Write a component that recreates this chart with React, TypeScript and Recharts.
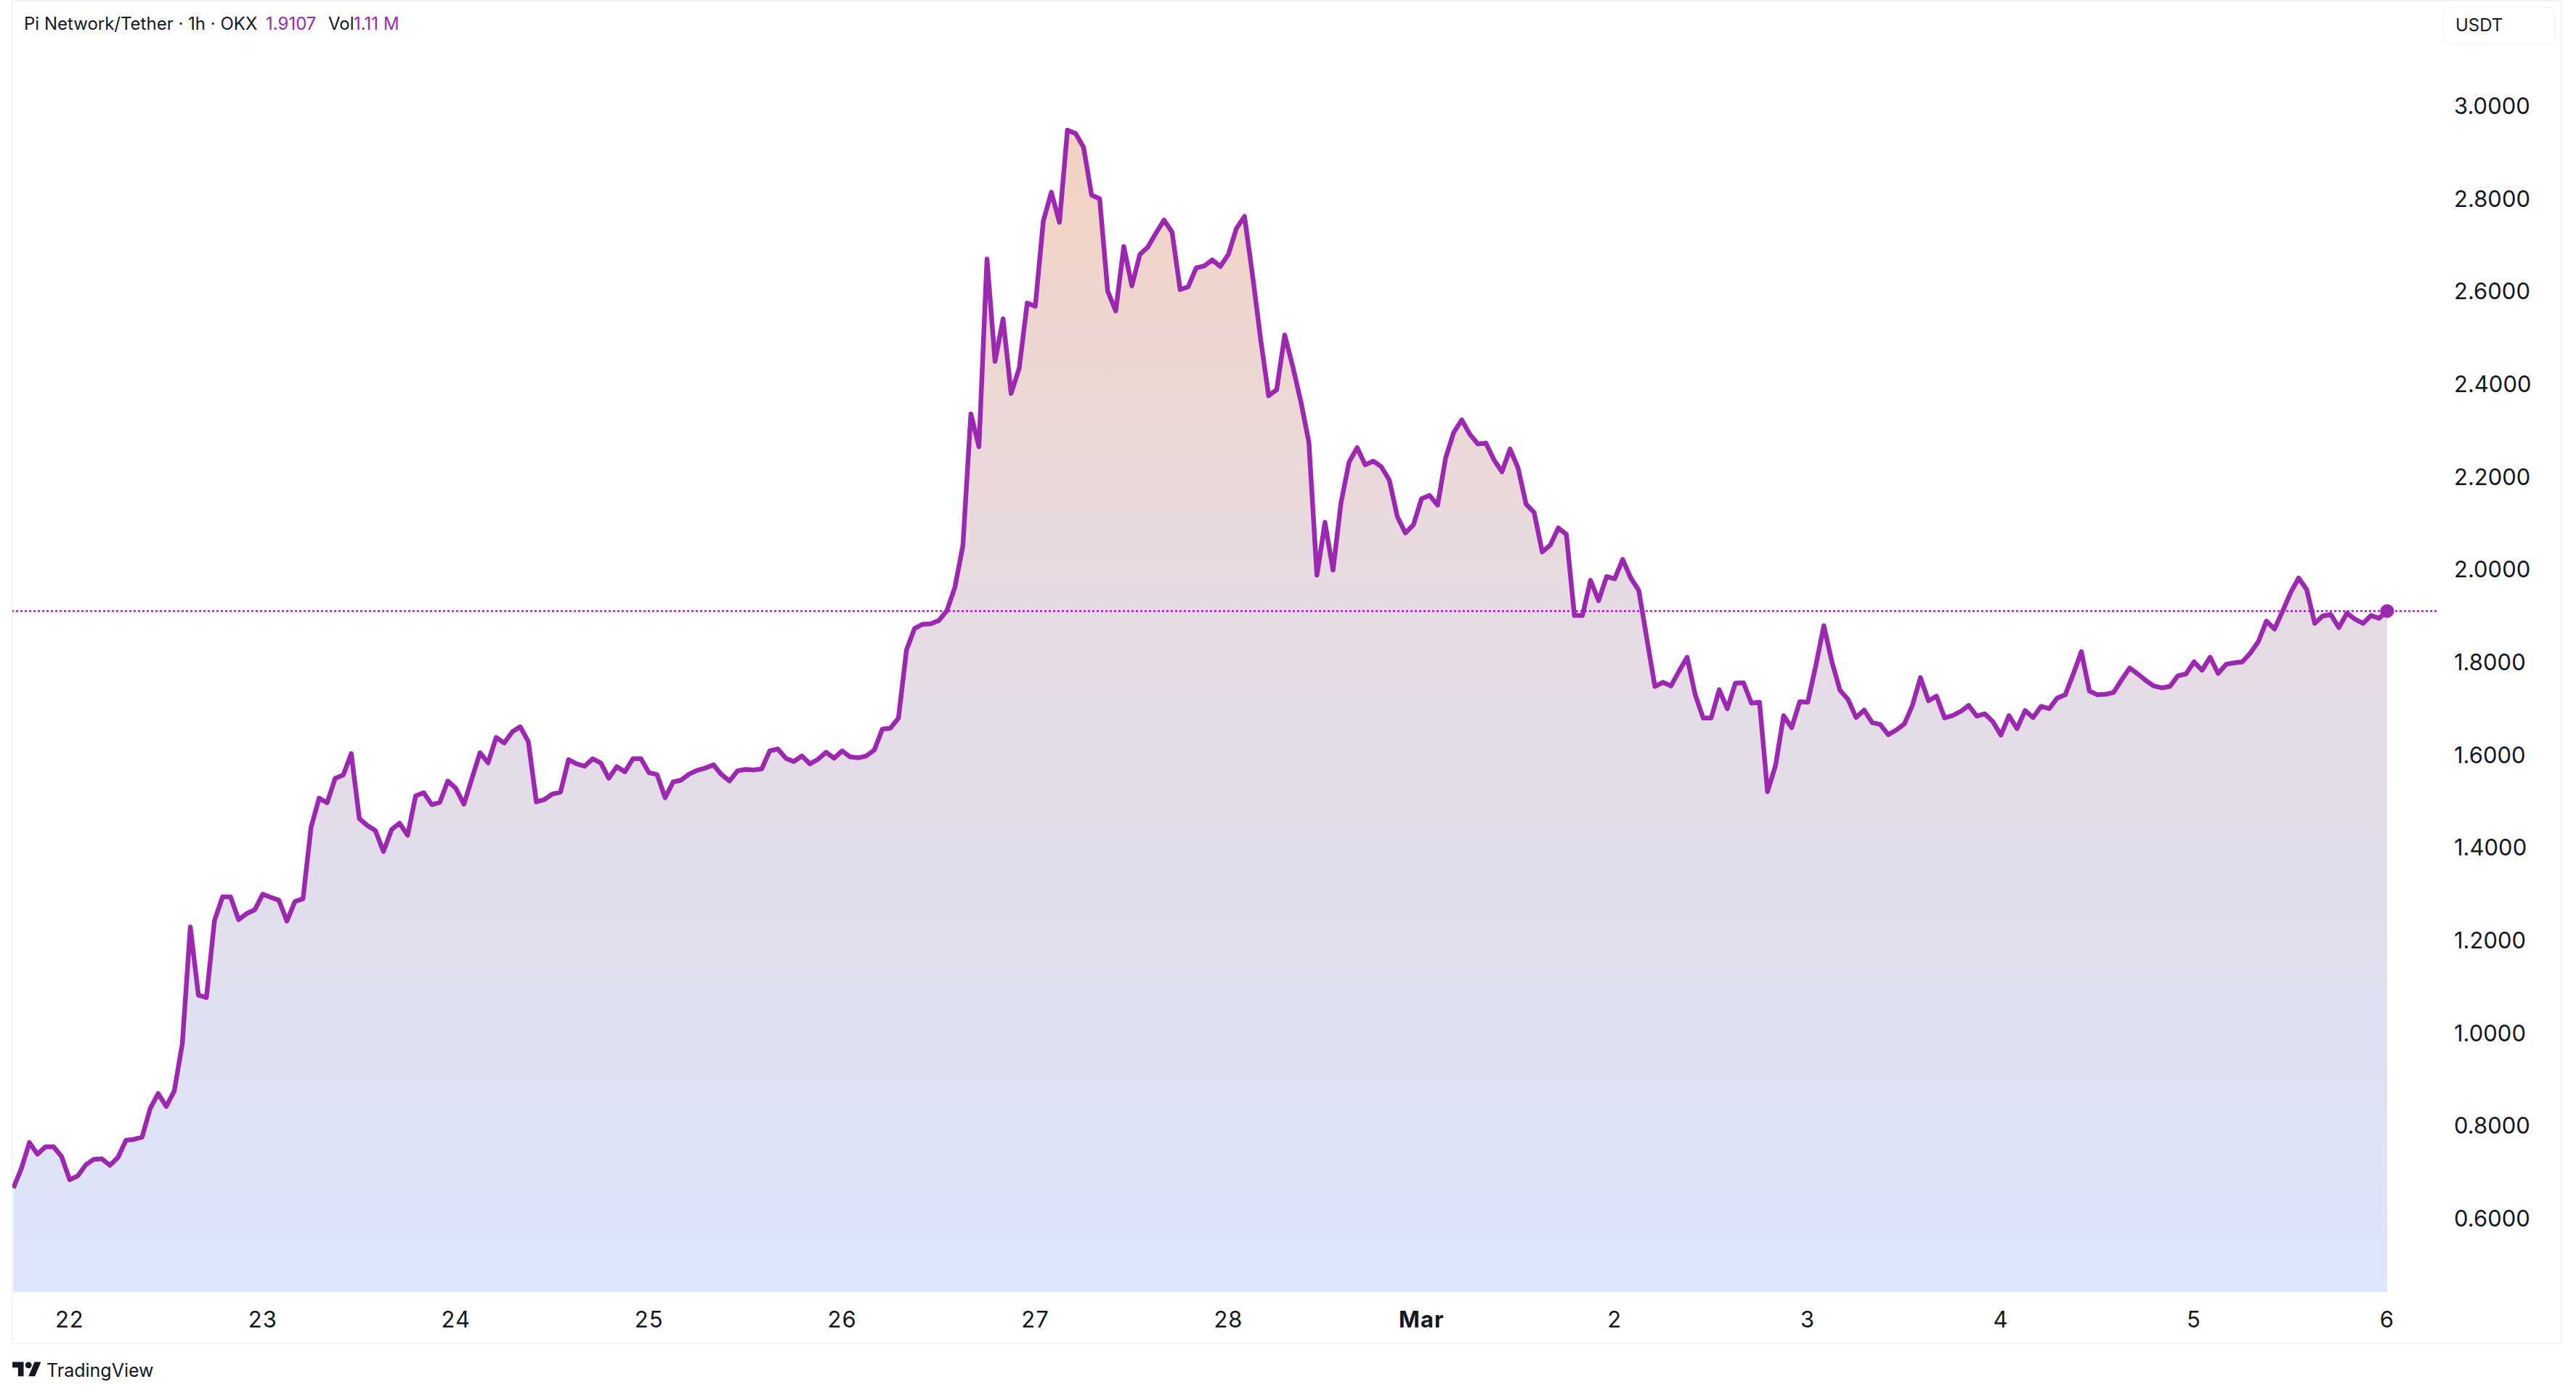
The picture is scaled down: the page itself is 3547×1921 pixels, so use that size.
import React from "react";
import { ComposedChart, Area, XAxis, YAxis, ReferenceLine, ReferenceDot } from "recharts";

// Hourly close. The first value is 7 hours before day 22 00:00.
const pricesA = [0.666,0.708,0.764,0.739,0.755,0.755,0.734,0.684,0.692,0.716,0.728,0.729,0.715,0.732,0.769,0.771,0.776,0.837,0.870,0.842,0.875,0.977,1.229,1.082,1.077,1.243,1.294,1.294,1.245,1.258,1.266,1.300,1.293,1.287,1.242,1.284,1.290,1.444,1.507,1.497];
const pricesB = [1.550,1.557,1.603,1.463,1.448,1.437,1.392,1.439,1.453,1.427,1.512,1.519,1.493,1.498,1.544,1.528,1.494,1.550,1.605,1.583,1.638,1.626,1.650,1.661,1.629,1.499,1.504,1.516,1.520,1.590,1.581,1.576,1.592,1.583,1.550,1.575,1.564,1.592,1.592,1.562];
const pricesC = [1.558,1.508,1.542,1.546,1.559,1.567,1.572,1.579,1.558,1.544,1.566,1.569,1.568,1.570,1.609,1.613,1.593,1.586,1.598,1.581,1.591,1.606,1.593,1.609,1.596,1.594,1.598,1.611,1.656,1.658,1.680,1.827,1.873,1.882,1.883,1.890,1.911,1.961,2.051,2.336];
const pricesD = [2.265,2.670,2.449,2.541,2.380,2.434,2.575,2.568,2.752,2.814,2.749,2.948,2.941,2.911,2.808,2.800,2.601,2.558,2.697,2.612,2.680,2.696,2.726,2.754,2.728,2.604,2.610,2.651,2.655,2.668,2.654,2.680,2.736,2.762,2.635,2.498,2.375,2.388,2.506,2.438];
const pricesE = [2.363,2.275,1.988,2.102,1.999,2.145,2.232,2.263,2.226,2.234,2.222,2.193,2.114,2.079,2.097,2.153,2.160,2.139,2.241,2.296,2.323,2.292,2.271,2.273,2.237,2.211,2.260,2.219,2.141,2.123,2.038,2.053,2.090,2.076,1.901,1.901,1.977,1.933,1.985,1.980];
const pricesF = [2.022,1.982,1.955,1.851,1.748,1.757,1.749,1.781,1.811,1.731,1.680,1.680,1.741,1.700,1.755,1.756,1.712,1.714,1.521,1.578,1.685,1.659,1.715,1.714,1.793,1.879,1.801,1.740,1.720,1.681,1.697,1.670,1.666,1.644,1.654,1.667,1.707,1.767,1.717,1.727];
const pricesG = [1.680,1.685,1.694,1.707,1.684,1.689,1.672,1.643,1.685,1.657,1.696,1.681,1.705,1.700,1.723,1.730,1.775,1.823,1.738,1.730,1.731,1.735,1.762,1.788,1.775,1.761,1.749,1.745,1.748,1.771,1.775,1.801,1.783,1.811,1.776,1.796,1.799,1.801,1.820,1.845];
const pricesH = [1.889,1.872,1.910,1.950,1.982,1.957,1.884,1.900,1.903,1.875,1.906,1.893,1.884,1.901,1.895,1.9107];
const prices = [...pricesA, ...pricesB, ...pricesC, ...pricesD, ...pricesE, ...pricesF, ...pricesG, ...pricesH];

const dayTicks = [7, 31, 55, 79, 103, 127, 151, 175, 199, 223, 247, 271, 295];
const dayLabels = ["22", "23", "24", "25", "26", "27", "28", "Mar", "2", "3", "4", "5", "6"];
const priceTicks = [0.6, 0.8, 1.0, 1.2, 1.4, 1.6, 1.8, 2.0, 2.2, 2.4, 2.6, 2.8, 3.0];
const lastPrice = 1.9107;

const data = prices.map((price, hour) => ({ hour, price }));

const PURPLE = "#9c27b0";
const INK = "#131722";
const FONT = "Inter, sans-serif";
const FRAME = "#f3f3f3";

function DayTick({ x, y, payload }: any) {
  const label = dayLabels[dayTicks.indexOf(payload.value)];
  return (
    <text x={x} y={y} textAnchor="middle" dominantBaseline="central" fontFamily={FONT} fontSize={31}
      fontWeight={label === "Mar" ? 700 : 400} letterSpacing={1} fill={INK}>
      {label}
    </text>
  );
}

export default function App() {
  return (
    <div style={{ position: "absolute", left: 0, top: 0, width: 3547, height: 1921, background: "#fff", fontFamily: FONT, color: INK }}>
      <div style={{ position: "absolute", left: 16, top: 0, width: 3508, height: 1847, border: `2px solid ${FRAME}` }} />
      <ComposedChart width={3547} height={1921} data={data} margin={{ top: 3, left: 17, right: 20, bottom: 70 }} style={{ position: "absolute", left: 0, top: 0 }}>
        <defs>
          <linearGradient id="areaFill" x1="0" y1="0" x2="0" y2="1">
            <stop offset="0%" stopColor="#f3d3c1" />
            <stop offset="42%" stopColor="#e6dbe4" />
            <stop offset="64%" stopColor="#e1deeb" />
            <stop offset="100%" stopColor="#dde6fd" />
          </linearGradient>
        </defs>
        <XAxis dataKey="hour" type="number" domain={[-0.12, 301.14]} allowDataOverflow ticks={dayTicks} interval={0}
          height={72} axisLine={false} tickLine={false} tickSize={35} tick={<DayTick />} />
        <YAxis orientation="right" type="number" domain={[0.442, 3.224]} allowDataOverflow ticks={priceTicks} interval={0}
          width={172} axisLine={false} tickLine={false} tickSize={22} tickFormatter={(v: number) => v.toFixed(4)}
          tick={{ fill: INK, fontSize: 31, fontFamily: FONT }} />
        <Area type="linear" dataKey="price" stroke={PURPLE} strokeWidth={6.5} strokeLinejoin="round" fill="url(#areaFill)" fillOpacity={1} dot={false} activeDot={false} isAnimationActive={false} />
        <ReferenceLine y={lastPrice} stroke={PURPLE} strokeWidth={2.5} strokeDasharray="3 3" />
        <ReferenceDot x={295} y={lastPrice} r={9.5} fill={PURPLE} stroke="none" />
      </ComposedChart>
      <div style={{ position: "absolute", left: 33, top: 18, fontSize: 24, lineHeight: "30px", whiteSpace: "pre" }}>
        Pi Network/Tether · 1h · OKX
        <span style={{ position: "absolute", left: 333, top: 0, color: PURPLE }}>1.9107</span>
        <span style={{ position: "absolute", left: 419, top: 0 }}>Vol</span>
        <span style={{ position: "absolute", left: 454, top: 0, color: PURPLE }}>1.11 M</span>
      </div>
      <div style={{ position: "absolute", left: 3363, top: 9, width: 154, height: 50, border: "1.5px solid #f0f0f0", borderRadius: 11, fontSize: 24, lineHeight: "50px" }}>
        <span style={{ position: "absolute", left: 17, top: 0 }}>USDT</span>
      </div>
      <svg style={{ position: "absolute", left: 17, top: 1871 }} width={40} height={31} viewBox="0 0 36 28" fill="#131722">
        <path d="M14 22H7V11H0V4h14v18zM28 22h-8l7.5-18h8L28 22z" />
        <circle cx="20" cy="8" r="4" />
      </svg>
      <div style={{ position: "absolute", left: 64, top: 1870, fontSize: 25, lineHeight: "34px" }}>TradingView</div>
    </div>
  );
}
